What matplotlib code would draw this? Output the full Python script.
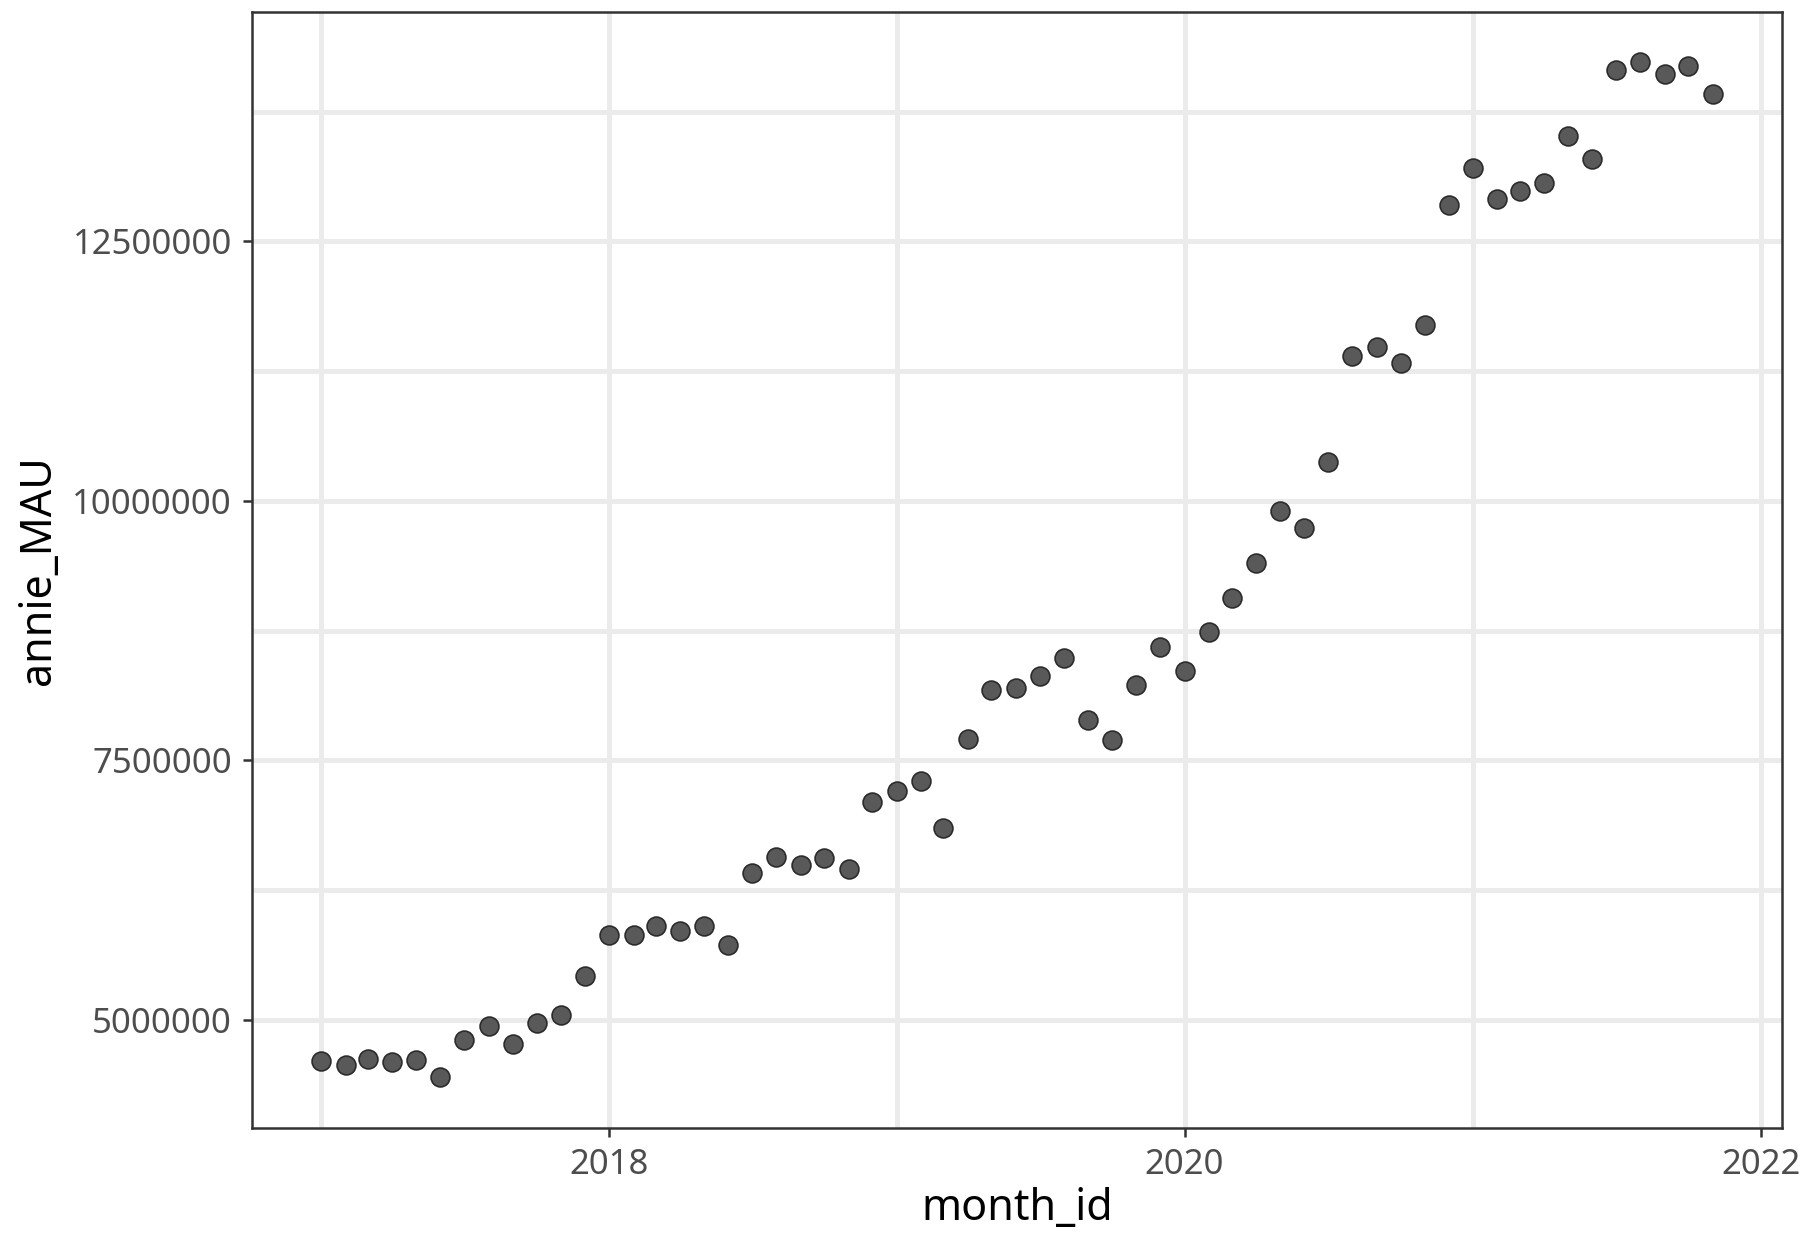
import matplotlib
matplotlib.use("Agg")
import matplotlib.pyplot as plt
import matplotlib.dates as mdates
import pandas as pd

# data (monthly, 2017-01 .. 2021-11)
months = pd.date_range("2017-01-01", "2021-11-01", freq="MS")
annie_mau = [
    4602000, 4569000, 4624000, 4591000, 4613000, 4447000,
    4801000, 4945000, 4768000, 4967000, 5044000, 5420000,
    5819000, 5819000, 5907000, 5852000, 5907000, 5719000,
    6416000, 6571000, 6493000, 6560000, 6449000, 7102000,
    7201000, 7301000, 6847000, 7710000, 8175000, 8197000,
    8308000, 8485000, 7887000, 7699000, 8230000, 8595000,
    8363000, 8739000, 9060000, 9403000, 9900000, 9735000,
    10376000, 11394000, 11482000, 11327000, 11692000, 12854000,
    13208000, 12909000, 12987000, 13064000, 13518000, 13297000,
    14149000, 14226000, 14115000, 14193000, 13916000,
]
y_ticks = [5000000, 7500000, 10000000, 12500000]
y_minor = [6250000, 8750000, 11250000, 13750000]
x_major_years = [2018, 2020, 2022]
x_minor_years = [2017, 2019, 2021]

plt.rcParams['font.family'] = ['Noto Sans', 'DejaVu Sans']

fig = plt.figure(figsize=(9.01, 6.19), dpi=200)
ax = fig.add_axes([0.1398, 0.0889, 0.989 - 0.1398, 0.9907 - 0.0889])

ax.scatter(months, annie_mau, s=46, color='#595959', edgecolors='#2b2b2b',
           linewidths=0.6, zorder=3)

# ggplot-like 5% expansion
x0, x1 = mdates.date2num(months[0]), mdates.date2num(months[-1])
dx = (x1 - x0) * 0.05
ax.set_xlim(x0 - dx, x1 + dx)
ymin, ymax = min(annie_mau), max(annie_mau)
dy = (ymax - ymin) * 0.05
ax.set_ylim(ymin - dy, ymax + dy)

ax.set_xticks([mdates.date2num(pd.Timestamp(f"{y}-01-01")) for y in x_major_years])
ax.set_xticklabels([str(y) for y in x_major_years])
ax.set_xticks([mdates.date2num(pd.Timestamp(f"{y}-01-01")) for y in x_minor_years], minor=True)
ax.set_yticks(y_ticks)
ax.set_yticklabels([str(v) for v in y_ticks])
ax.set_yticks(y_minor, minor=True)

ax.grid(True, which='both', color='#EBEBEB', linewidth=1.8, zorder=0)
ax.set_axisbelow(True)
ax.tick_params(which='major', length=3.2, width=0.9, color='#333333',
               labelsize=12.5, labelcolor='#4D4D4D', pad=4)
ax.tick_params(which='minor', length=0)
for sp in ax.spines.values():
    sp.set_color('#333333')
    sp.set_linewidth(0.9)

ax.set_xlabel("month_id", fontsize=15.5, color='black', labelpad=2)
ax.set_ylabel("annie_MAU", fontsize=15.5, color='black', labelpad=4)

fig.savefig("out.png", dpi=200)
